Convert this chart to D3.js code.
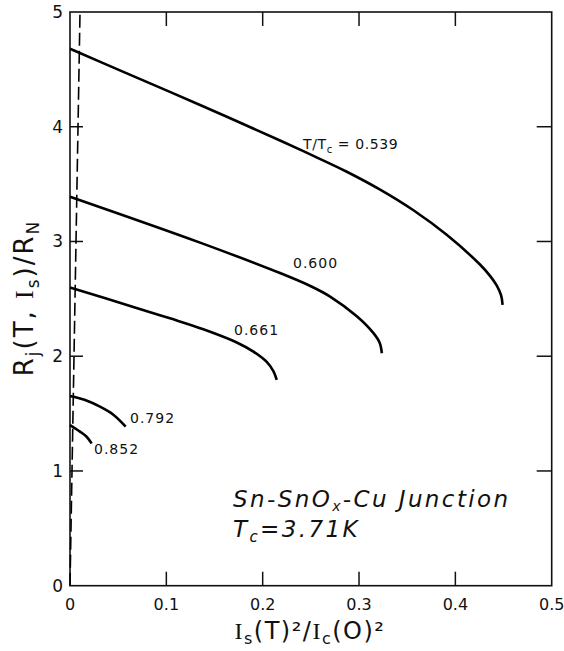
<!DOCTYPE html>
<html>
<head>
<meta charset="utf-8">
<script src="https://cdn.jsdelivr.net/npm/d3@7"></script>
<style>
  html, body { margin: 0; padding: 0; background: #fff; }
  svg { display: block; }
  text { font-family: "DejaVu Sans", sans-serif; fill: #111; }
</style>
</head>
<body>
<svg id="chart" width="564" height="651"></svg>
<script>
// Junction resistance vs. normalised supercurrent squared, one curve per reduced temperature
const x539 = [0, 0.05, 0.135, 0.218, 0.2527, 0.2873, 0.3219, 0.3565, 0.391, 0.4258, 0.436, 0.443, 0.4475, 0.449];
const r539 = [4.68, 4.498, 4.19, 3.88, 3.746, 3.608, 3.452, 3.272, 3.058, 2.797, 2.70, 2.615, 2.53, 2.447];

const x600 = [0, 0.135, 0.218, 0.25, 0.270, 0.2977, 0.315, 0.3215, 0.3237];
const r600 = [3.39, 2.99, 2.725, 2.61, 2.52, 2.348, 2.201, 2.116, 2.026];

const x661 = [0, 0.0657, 0.1038, 0.1384, 0.1731, 0.1904, 0.2042, 0.2111, 0.2146];
const r661 = [2.598, 2.43, 2.33, 2.235, 2.12, 2.04, 1.95, 1.87, 1.793];

const x792 = [0, 0.015, 0.0311, 0.045, 0.0578];
const r792 = [1.654, 1.62, 1.56, 1.49, 1.386];

const x852 = [0, 0.0104, 0.017, 0.0225];
const r852 = [1.40, 1.343, 1.30, 1.24];

// dashed reference line rising from the origin
const xDash = [0, 0.0104];
const rDash = [0, 5];

const xTicks = [0, 0.1, 0.2, 0.3, 0.4, 0.5];
const xTickLabels = ["0", "0.1", "0.2", "0.3", "0.4", "0.5"];
const yTicks = [0, 1, 2, 3, 4, 5];
const yTickLabels = ["0", "1", "2", "3", "4", "5"];

const svg = d3.select("#chart");
const plotL = 70, plotR = 551.7, plotT = 12, plotB = 585.7;

const x = d3.scaleLinear().domain([0, 0.5]).range([plotL, plotR]);
const y = d3.scaleLinear().domain([0, 5]).range([plotB, plotT]);

// frame
svg.append("rect")
  .attr("x", plotL).attr("y", plotT)
  .attr("width", plotR - plotL).attr("height", plotB - plotT)
  .attr("fill", "none").attr("stroke", "#111").attr("stroke-width", 1.6);

// inward ticks on all four sides
const innerX = xTicks.slice(1, -1);
const innerY = yTicks.slice(1, -1);
const g = svg.append("g").attr("stroke", "#111").attr("stroke-width", 1.5);
innerX.forEach(v => {
  g.append("line").attr("x1", x(v)).attr("x2", x(v)).attr("y1", plotB).attr("y2", plotB - 14);
  g.append("line").attr("x1", x(v)).attr("x2", x(v)).attr("y1", plotT).attr("y2", plotT + 14);
});
innerY.forEach(v => {
  g.append("line").attr("x1", plotL).attr("x2", plotL + 13).attr("y1", y(v)).attr("y2", y(v));
  g.append("line").attr("x1", plotR).attr("x2", plotR - 15).attr("y1", y(v)).attr("y2", y(v));
});

// tick labels
svg.append("g").selectAll("text").data(xTicks).join("text")
  .attr("x", d => x(d)).attr("y", plotB + 24)
  .attr("text-anchor", "middle").attr("font-size", 16)
  .text((d, i) => xTickLabels[i]);
svg.append("g").selectAll("text").data(yTicks).join("text")
  .attr("x", plotL - 7).attr("y", d => y(d) + 6)
  .attr("text-anchor", "end").attr("font-size", 17)
  .text((d, i) => yTickLabels[i]);

// curves
const line = d3.line().x(d => x(d[0])).y(d => y(d[1])).curve(d3.curveCatmullRom.alpha(0.5));
const series = [[x539, r539], [x600, r600], [x661, r661], [x792, r792], [x852, r852]];
series.forEach(([xs, rs]) => {
  svg.append("path")
    .datum(xs.map((v, i) => [v, rs[i]]))
    .attr("d", line)
    .attr("fill", "none").attr("stroke", "#000").attr("stroke-width", 2.6)
    .attr("stroke-linecap", "butt");
});

svg.append("path")
  .datum(xDash.map((v, i) => [v, rDash[i]]))
  .attr("d", d3.line().x(d => x(d[0])).y(d => y(d[1])))
  .attr("fill", "none").attr("stroke", "#000").attr("stroke-width", 1.6)
  .attr("stroke-dasharray", "13 5");

// curve labels
const lab = (px, py, txt) => svg.append("text").attr("x", px).attr("y", py)
  .attr("font-size", 14).attr("letter-spacing", 1).text(txt);

const t539 = svg.append("text").attr("x", 303).attr("y", 149).attr("font-size", 14).attr("letter-spacing", 0.6);
t539.append("tspan").text("T/T");
t539.append("tspan").attr("font-size", 10).attr("dy", 4).text("c");
t539.append("tspan").attr("dy", -4).text(" = 0.539");
lab(293, 268, "0.600");
lab(234, 335, "0.661");
lab(130, 423, "0.792");
lab(94, 454, "0.852");

// junction annotation
const ann1 = svg.append("text").attr("x", 233).attr("y", 507)
  .attr("font-size", 23).attr("font-style", "italic").attr("letter-spacing", 2.4);
ann1.append("tspan").text("Sn-SnO");
ann1.append("tspan").attr("font-size", 14).attr("dy", 4).text("x");
ann1.append("tspan").attr("dy", -4).text("-Cu Junction");
const ann2 = svg.append("text").attr("x", 233).attr("y", 537)
  .attr("font-size", 23).attr("font-style", "italic").attr("letter-spacing", 2.4);
ann2.append("tspan").text("T");
ann2.append("tspan").attr("font-size", 15).attr("dy", 5).text("c");
ann2.append("tspan").attr("dy", -5).text("=3.71K");

// x-axis title
const serif = "'Liberation Serif', serif";
const xt = svg.append("text").attr("x", 310).attr("y", 639)
  .attr("text-anchor", "middle").attr("font-size", 24).attr("letter-spacing", 1.5);
xt.append("tspan").attr("font-family", serif).text("I");
xt.append("tspan").attr("font-size", 16).attr("dy", 5).text("s");
xt.append("tspan").attr("dy", -5).text("(T)²/");
xt.append("tspan").attr("font-family", serif).text("I");
xt.append("tspan").attr("font-size", 16).attr("dy", 5).text("c");
xt.append("tspan").attr("dy", -5).text("(O)²");

// y-axis title
const yt = svg.append("text")
  .attr("transform", "translate(33,298) rotate(-90)")
  .attr("text-anchor", "middle").attr("font-size", 26).attr("letter-spacing", 2);
yt.append("tspan").text("R");
yt.append("tspan").attr("font-size", 17).attr("dy", 6).text("j");
yt.append("tspan").attr("dy", -6).text("(T, ");
yt.append("tspan").attr("font-family", serif).text("I");
yt.append("tspan").attr("font-size", 17).attr("dy", 6).text("s");
yt.append("tspan").attr("dy", -6).text(")/R");
yt.append("tspan").attr("font-size", 17).attr("dy", 6).text("N");
</script>
</body>
</html>
